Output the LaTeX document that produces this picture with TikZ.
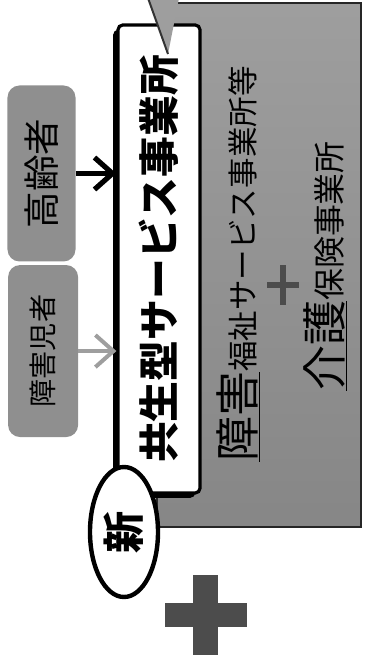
\documentclass[tikz,border=0pt]{standalone}
\usepackage{fontspec}
\setmainfont{Noto Sans CJK JP}
\usepackage{tikz}
\usetikzlibrary{
  arrows.meta,
  positioning,
  shapes.geometric,
  shadows
}
\usepackage{xcolor}
\definecolor{boxGray}{gray}{0.56}
\definecolor{panelGray}{gray}{0.62}
\definecolor{panelLight}{gray}{0.80}
\definecolor{crossGray}{gray}{0.30}
\definecolor{arrowGray}{gray}{0.62}
\tikzset{
  userbox/.style={
    fill=boxGray,
    rounded corners=3mm,
    inner sep=0pt,
    minimum height=17mm
  },
  feed/.style={
    line width=1.3mm,
    -{Straight Barb[length=4.5mm,width=8mm]}
  }
}

\begin{document}
\begin{tikzpicture}[
      x=0.25mm, y=0.25mm,
      rotate=90, transform shape,
      every node/.style={inner sep=0pt}
      ]
      \useasboundingbox (0,-364) rectangle (660,0);

      % existing offices
      \node[draw=black!85, line width=0.6mm,
        top color=panelGray, middle color=panelLight, bottom color=panelGray!85!black,
        minimum width=131mm, minimum height=51mm] (panel) at (395,-259) {};

      \node[anchor=base, font=\fontsize{21.7}{24}\selectfont] (welfare) at (396,-254)
        {{\fontsize{32}{34}\selectfont\underline{障害}}福祉サービス事業所等};
      \draw[crossGray, line width=1.4mm] (355,-283) -- (395,-283);
      \draw[crossGray, line width=1.4mm] (375,-267) -- (375,-299);
      \node[anchor=base, font=\fontsize{22.7}{24}\selectfont] (care) at (394,-341)
        {{\fontsize{32}{34}\selectfont\underline{介護}}保険事業所};

      % the new office
      \node[draw=black, fill=white, line width=0.8mm, rounded corners=1.2mm,
        minimum width=117mm, minimum height=20.5mm,
        drop shadow={shadow xshift=-1.2mm, shadow yshift=-1.2mm, opacity=1, fill=black},
        font=\bfseries\fontsize{29}{30}\selectfont] (kyosei) at (401,-159) {共生型サービス事業所};
      \node[ellipse, draw=black, fill=white, line width=1.1mm,
        minimum width=32.5mm, minimum height=17mm,
        font=\bfseries\fontsize{30}{30}\selectfont] (shin) at (128,-124) {新};
      \fill[panelGray] (662,-148) -- (606,-168) -- (662,-179) -- cycle;
      \draw[line width=0.5mm, black!80] (662,-148) -- (606,-168);

      % users
      \node[userbox, minimum width=44mm, font=\fontsize{26}{26}\selectfont] (elder) at (486.5,-41.5) {高齢者};
      \node[userbox, minimum width=43mm, minimum height=17.5mm, font=\fontsize{20}{20}\selectfont,
        left=0.75mm of elder, yshift=-0.4mm] (child) {障害児者};

      \draw[feed] (elder) -- (elder |- kyosei.north);
      \draw[feed, arrowGray, line width=1mm] (child) -- (child |- kyosei.north);

      \fill[crossGray] (5,-218) rectangle (85,-193);
      \fill[crossGray] (33,-247) rectangle (57,-165);
\end{tikzpicture}
\end{document}
